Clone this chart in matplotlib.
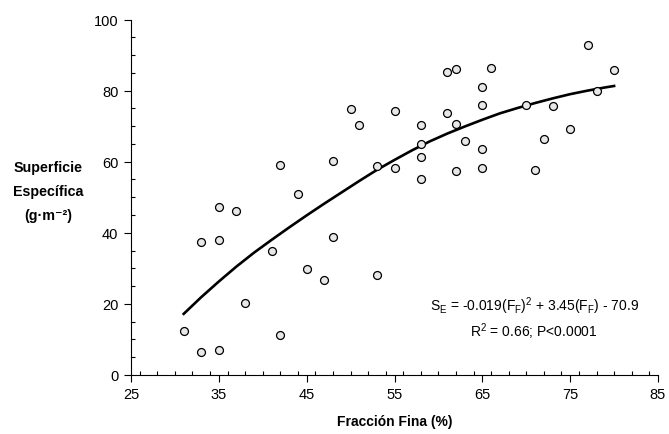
import matplotlib
matplotlib.use("Agg")
import matplotlib.pyplot as plt
from matplotlib.ticker import MultipleLocator

plt.rcParams['font.family'] = ['Liberation Sans', 'DejaVu Sans']
plt.rcParams['mathtext.fontset'] = 'custom'
plt.rcParams['mathtext.rm'] = 'Liberation Sans'
plt.rcParams['mathtext.bf'] = 'Liberation Sans:bold'

# Observed data: Fracción Fina (%) vs Superficie Específica
frac_fina = [31, 33, 33, 35, 35, 35, 37, 38, 41, 42, 42, 44, 45, 47, 48, 48,
             50, 51, 53, 53, 55, 55, 58, 58, 58, 58, 61, 62, 61, 62, 63, 62,
             65, 66, 65, 65, 65, 70, 73, 72, 71, 75, 77, 80, 78]
sup_esp = [12.5, 6.5, 37.3, 6.9, 38.1, 47.2, 46.0, 20.3, 35.0, 11.3, 59.2, 50.9,
           29.9, 26.6, 38.9, 60.2, 74.9, 70.3, 28.2, 58.9, 74.2, 58.3, 70.2, 64.9,
           61.3, 55.2, 85.2, 86.1, 73.6, 70.6, 65.7, 57.3, 81.0, 86.4, 76.0, 63.6,
           58.3, 76.0, 75.8, 66.3, 57.6, 69.2, 92.9, 85.9, 80.0]

# Fitted curve
curve_x = [31, 33, 35, 37, 39, 41, 43, 45, 47, 49, 51, 53, 55, 57, 59, 61, 63,
           65, 67, 69, 71, 73, 75, 77, 79, 80]
curve_y = [17.2, 21.9, 26.3, 30.5, 34.4, 38.0, 41.5, 44.9, 48.2, 51.4, 54.6,
           57.7, 60.5, 63.2, 65.7, 67.9, 69.9, 71.8, 73.6, 75.1, 76.5, 77.8,
           79.0, 80.0, 80.9, 81.3]

x_ticks = [25, 35, 45, 55, 65, 75, 85]
y_ticks = [0, 20, 40, 60, 80, 100]

eq_line1 = (r"S$_\mathregular{E}$ = -0.019(F$_\mathregular{F}$)$^\mathregular{2}$"
            r" + 3.45(F$_\mathregular{F}$) - 70.9")
eq_line2 = r"R$^\mathregular{2}$ = 0.66; P<0.0001"

fig = plt.figure(figsize=(6.69, 4.35), dpi=100)
ax = fig.add_axes([131/669, 1 - 376/435, (658-131)/669, (376-20.5)/435])

ax.plot(curve_x, curve_y, color='black', lw=1.9, zorder=2)
ax.plot(frac_fina, sup_esp, 'o', ms=5.7, mfc='#e8e8e8', mec='black', mew=0.9,
        zorder=3, clip_on=False)

ax.set_xlim(25, 85)
ax.set_ylim(0, 100)
ax.set_xticks(x_ticks)
ax.set_yticks(y_ticks)
ax.xaxis.set_minor_locator(MultipleLocator(2))
ax.yaxis.set_minor_locator(MultipleLocator(5))
ax.tick_params(which='major', direction='out', length=5, width=0.8,
               labelsize=10.5, pad=4)
ax.tick_params(which='minor', direction='in', length=3, width=0.8)
for s in ['top', 'right']:
    ax.spines[s].set_visible(False)
for s in ['left', 'bottom']:
    ax.spines[s].set_linewidth(0.8)

ax.set_xlabel("Fracción Fina (%)", fontsize=10, fontweight='bold', labelpad=9)

fig.text(48/669, 1 - 192/435,
         "Superficie\nEspecífica\n(g·m⁻²)",
         ha='center', va='center', fontsize=10.3, fontweight='bold',
         linespacing=1.95)

ax.text(70.9, 19.5, eq_line1, ha='center', va='center', fontsize=10)
ax.text(70.9, 12.5, eq_line2, ha='center', va='center', fontsize=10)

fig.savefig("out.png", dpi=100)
